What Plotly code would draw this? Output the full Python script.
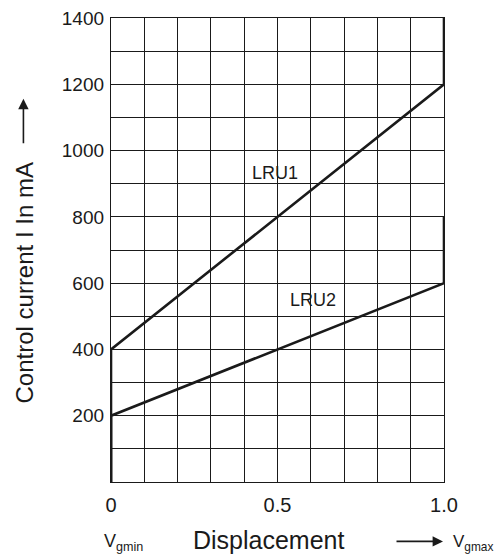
import plotly.graph_objects as go

# Data
lru1_x = [0, 0, 1.0, 1.0]
lru1_y = [0, 400, 1200, 1400]
lru2_x = [0, 0, 1.0, 1.0]
lru2_y = [0, 200, 600, 800]

x_tickvals = [0, 0.1, 0.2, 0.3, 0.4, 0.5, 0.6, 0.7, 0.8, 0.9, 1.0]
x_ticktext = ["0", "", "", "", "", "0.5", "", "", "", "", "1.0"]
y_tickvals = [0, 100, 200, 300, 400, 500, 600, 700, 800, 900, 1000, 1100, 1200, 1300, 1400]
y_ticktext = ["", "", "200", "", "400", "", "600", "", "800", "", "1000", "", "1200", "", "1400"]

series_labels = ["LRU1", "LRU2"]
label_x = [0.492, 0.607]
label_y = [933, 548]

FONT = "Liberation Sans, Arial, sans-serif"
INK = "#1a1a1a"

fig = go.Figure()
for xs, ys, name in [(lru1_x, lru1_y, "LRU1"), (lru2_x, lru2_y, "LRU2")]:
    fig.add_trace(go.Scatter(x=xs, y=ys, mode="lines", name=name,
                             line=dict(color=INK, width=2.6), showlegend=False,
                             cliponaxis=False))

for name, lx, ly in zip(series_labels, label_x, label_y):
    fig.add_annotation(x=lx, y=ly, text=name, showarrow=False,
                       xanchor="center", yanchor="middle",
                       font=dict(family=FONT, size=18, color=INK))

# Y axis title with arrow
fig.add_annotation(xref="paper", yref="paper", x=-0.261, y=0.428,
                   text="Control current I In mA", textangle=-90,
                   xanchor="center", yanchor="middle",
                   showarrow=False, font=dict(family=FONT, size=24, color=INK))
fig.add_annotation(xref="paper", yref="paper", x=-0.263, y=0.826,
                   text="", showarrow=True, ax=0, ay=46,
                   arrowhead=2, arrowsize=1.3, arrowwidth=1.6, arrowcolor=INK)

# X axis title and captions
fig.add_annotation(xref="paper", yref="paper", x=0.475, y=-0.125,
                   text="Displacement", showarrow=False,
                   xanchor="center", yanchor="middle",
                   font=dict(family=FONT, size=25, color=INK))
fig.add_annotation(xref="paper", yref="paper", x=-0.026, y=-0.131,
                   text="V<sub>gmin</sub>", showarrow=False,
                   xanchor="left", yanchor="middle",
                   font=dict(family=FONT, size=18, color=INK))
fig.add_annotation(xref="paper", yref="paper", x=0.997, y=-0.128,
                   text="", showarrow=True, ax=-48, ay=0,
                   arrowhead=2, arrowsize=1.3, arrowwidth=1.6, arrowcolor=INK)
fig.add_annotation(xref="paper", yref="paper", x=1.022, y=-0.131,
                   text="V<sub>gmax</sub>", showarrow=False,
                   xanchor="left", yanchor="middle",
                   font=dict(family=FONT, size=17, color=INK))

fig.update_layout(
    width=496, height=547,
    margin=dict(l=103, r=60, t=10, b=73),
    paper_bgcolor="white", plot_bgcolor="white",
    font=dict(family=FONT, color=INK),
    xaxis=dict(range=[0, 1.0], tickvals=x_tickvals, ticktext=x_ticktext,
               showgrid=True, gridcolor=INK, gridwidth=1.3, zeroline=False,
               showline=True, linecolor=INK, linewidth=1.3, mirror=True, automargin=False,
               ticks="", tickfont=dict(size=20, family=FONT, color=INK), ticklabelstandoff=5,
               ticklabeloverflow="allow"),
    yaxis=dict(range=[0, 1400], tickvals=y_tickvals, ticktext=y_ticktext,
               showgrid=True, gridcolor=INK, gridwidth=1.3, zeroline=False,
               showline=True, linecolor=INK, linewidth=1.3, mirror=True, automargin=False,
               ticks="", tickfont=dict(size=19, family=FONT, color=INK), ticklabelstandoff=2,
               ticklabeloverflow="allow"),
)

fig.write_html("out.html")
